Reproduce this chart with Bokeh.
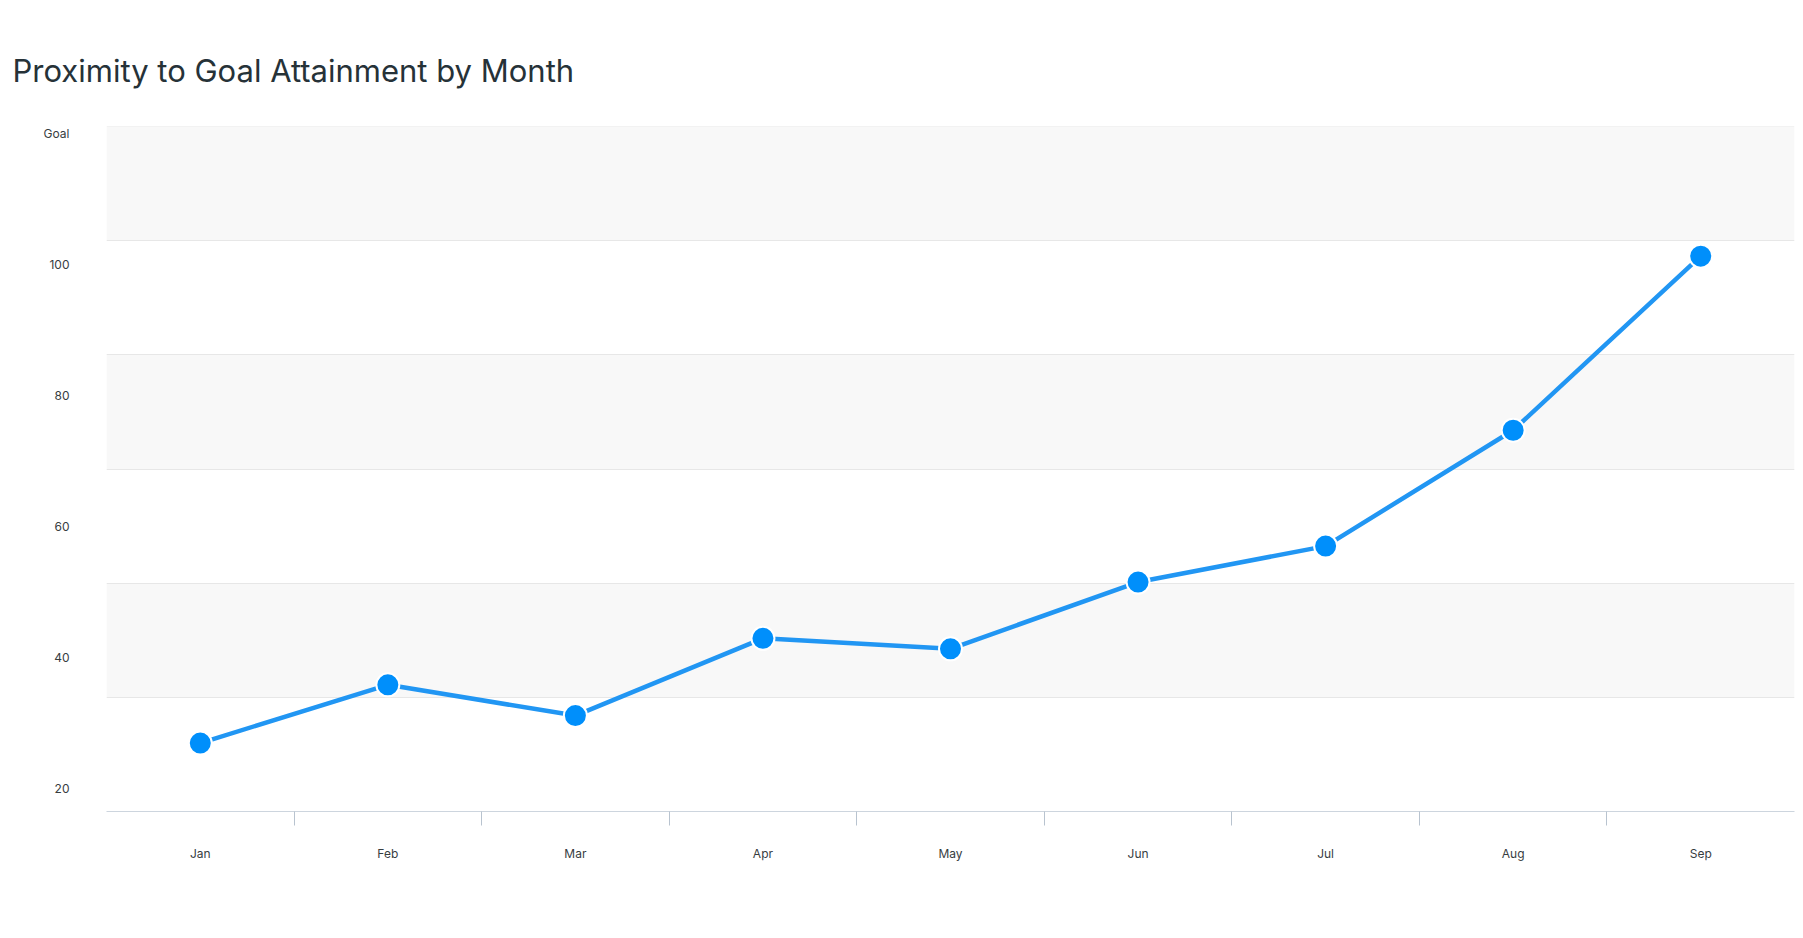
from bokeh.plotting import figure
from bokeh.models import Range1d, FixedTicker, LinearAxis
from bokeh.embed import file_html
from bokeh.resources import INLINE

# ---- data ----
months = ["Jan", "Feb", "Mar", "Apr", "May", "Jun", "Jul", "Aug", "Sep"]
values = [26.9, 35.8, 31.1, 42.9, 41.3, 51.5, 57.0, 74.7, 101.3]
y_ticks = [20, 40, 60, 80, 100, 120]
y_tick_labels = ["20", "40", "60", "80", "100", "Goal"]
band_lines = [1, 2, 3, 4, 5, 6]
band_shaded_lo = [1, 3, 5]
band_shaded_hi = [2, 4, 6]
title_text = "Proximity to Goal Attainment by Month"

x_idx = list(range(len(months)))

p = figure(width=1803, height=938, output_backend="svg", toolbar_location=None,
           x_range=Range1d(-0.5, len(months) - 0.5),
           y_range=Range1d(16.44, 121.12),
           min_border_left=106, min_border_right=9,
           min_border_top=126, min_border_bottom=127,
           x_axis_type=None, y_axis_type=None)
p.extra_y_ranges = {"band": Range1d(0, 6)}
p.background_fill_color = "white"
p.border_fill_color = "white"
p.outline_line_color = None
p.xgrid.visible = False
p.ygrid.visible = False

# title
p.title.text = title_text
p.title.align = "left"
p.title.offset = -94
p.title.standoff = 76
p.title.text_font = "Inter"
p.title.text_font_size = "31px"
p.title.text_font_style = "normal"
p.title.text_color = "#263238"

# bands and grid lines
p.hstrip(y0=band_shaded_lo, y1=band_shaded_hi, y_range_name="band",
         fill_color="#f8f8f8", line_color=None)
p.hspan(y=band_lines, y_range_name="band", line_color="#e7e7e7", line_width=1)

# axes
xaxis = LinearAxis(ticker=FixedTicker(ticks=x_idx,
                                      minor_ticks=[i + 0.5 for i in x_idx[:-1]]))
xaxis.major_label_overrides = {i: m for i, m in zip(x_idx, months)}
xaxis.axis_line_color = "#cdd5de"
xaxis.axis_line_width = 1
xaxis.major_tick_line_color = None
xaxis.major_tick_out = 0
xaxis.major_tick_in = 0
xaxis.minor_tick_line_color = "#b8c3cf"
xaxis.minor_tick_out = 14
xaxis.minor_tick_in = 0
xaxis.major_label_standoff = 20
xaxis.major_label_text_font = "Inter"
xaxis.major_label_text_font_size = "12px"
xaxis.major_label_text_color = "#373d3f"
p.add_layout(xaxis, "below")

yaxis = LinearAxis(ticker=FixedTicker(ticks=y_ticks, minor_ticks=[]))
yaxis.major_label_overrides = {t: l for t, l in zip(y_ticks, y_tick_labels)}
yaxis.axis_line_color = None
yaxis.major_tick_line_color = None
yaxis.minor_tick_line_color = None
yaxis.major_tick_out = 0
yaxis.major_tick_in = 0
yaxis.major_label_standoff = 37
yaxis.major_label_text_font = "Inter"
yaxis.major_label_text_font_size = "12px"
yaxis.major_label_text_color = "#373d3f"
p.add_layout(yaxis, "left")

# series
p.line(x_idx, values, line_color="#2196F3", line_width=4.5)
p.scatter(x_idx, values, size=23, fill_color="#008FFB", line_color="white", line_width=2)

open("out.html", "w").write(file_html(p, INLINE))
